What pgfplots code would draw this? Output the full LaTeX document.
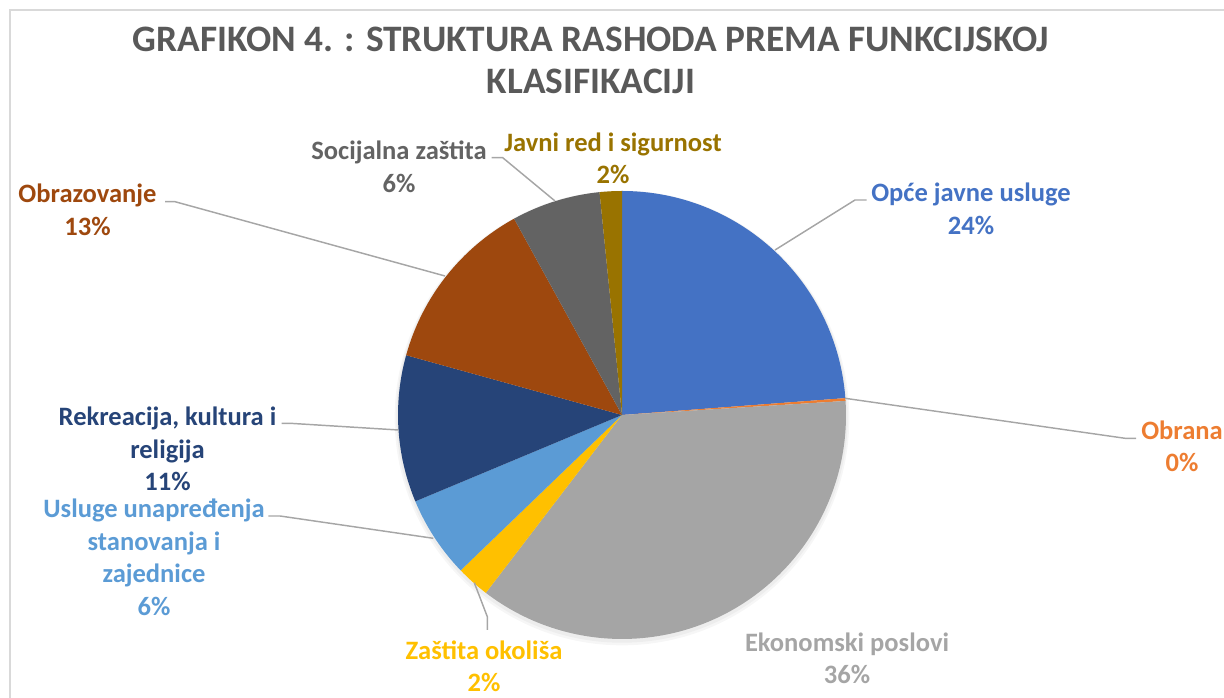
\documentclass[border=0pt]{standalone}
\usepackage{fontspec}
\setmainfont{Carlito}
\usepackage{pgfplots}
\usepackage{pgfplotstable}
\pgfplotsset{compat=1.18}

\definecolor{c0}{HTML}{4472C4}
\definecolor{c1}{HTML}{ED7D31}
\definecolor{c2}{HTML}{A5A5A5}
\definecolor{c3}{HTML}{FFC000}
\definecolor{c4}{HTML}{5B9BD5}
\definecolor{c5}{HTML}{264478}
\definecolor{c6}{HTML}{9E480E}
\definecolor{c7}{HTML}{636363}
\definecolor{c8}{HTML}{997300}
\definecolor{titlecol}{HTML}{595959}
\definecolor{leader}{HTML}{A6A6A6}
\definecolor{frame}{HTML}{D9D9D9}

\tikzset{
  lbl/.style={font=\bfseries\fontsize{19.9}{24.4}\selectfont, align=center, inner sep=0pt},
  lead/.style={leader, line width=1.1pt},
}

% shares in percent, clockwise from 12 o'clock
\pgfplotstableread[col sep=comma]{
share,col
23.8,c0
0.2,c1
36.4,c2
2.4,c3
5.9,c4
10.6,c5
12.7,c6
6.4,c7
1.6,c8
}\shares

\begin{document}
\begin{tikzpicture}
\begin{axis}[
  x=0.75pt, y=0.75pt,
  xmin=0, xmax=1224, ymin=0, ymax=698,
  hide axis, clip=false,
]
\coordinate (ll) at (axis cs:0,0);
\coordinate (ur) at (axis cs:1224,698);
\draw[frame, line width=1.5pt] (axis cs:10,688) rectangle (axis cs:1260,-30);

% soft shadow under the pie
\fill[black, opacity=0.035] (axis cs:622,280) circle[radius=170.5pt];
\fill[black, opacity=0.035] (axis cs:622,281) circle[radius=169.3pt];

\xdef\cum{90}
\pgfplotsinvokeforeach{0,...,8}{
  \pgfplotstablegetelem{#1}{share}\of\shares \let\sliceval\pgfplotsretval
  \pgfplotstablegetelem{#1}{col}\of\shares \let\slicecol\pgfplotsretval
  \pgfmathsetmacro\aend{\cum-3.6*\sliceval}
  \edef\slice{\noexpand\fill[\slicecol] (axis cs:622,283) -- ++(\cum:168pt)
    arc[start angle=\cum, end angle=\aend, radius=168pt] -- cycle;}
  \slice
  \xdef\cum{\aend}
}

% title
\node[text=titlecol, align=center, inner sep=0pt, font=\bfseries\fontsize{28}{31.5}\selectfont] at (axis cs:591,638)
  {GRAFIKON 4. : STRUKTURA RASHODA PREMA FUNKCIJSKOJ\\KLASIFIKACIJI};

% leader lines
\draw[lead] (axis cs:775,448) -- (axis cs:855,498) -- (axis cs:866.7,498);
\draw[lead] (axis cs:845,299.7) -- (axis cs:1125,259.7) -- (axis cs:1136,259.7);
\draw[lead] (axis cs:474.3,115.3) -- (axis cs:487.3,81.3) -- (axis cs:487.3,68);
\draw[lead] (axis cs:433.3,159.7) -- (axis cs:280,182) -- (axis cs:268.3,182);
\draw[lead] (axis cs:398.3,268) -- (axis cs:290,274.7) -- (axis cs:281.7,274.7);
\draw[lead] (axis cs:445,422) -- (axis cs:175,496.3) -- (axis cs:165,496.3);
\draw[lead] (axis cs:555,497) -- (axis cs:502.7,540.3) -- (axis cs:491.7,540.3);

% labels
\node[lbl, text=c0] at (axis cs:971,489) {Opće javne usluge\\24\%};
\node[lbl, text=c1] at (axis cs:1182,251.5) {Obrana\\0\%};
\node[lbl, text=c2] at (axis cs:847,39.5) {Ekonomski poslovi\\36\%};
\node[lbl, text=c3] at (axis cs:484,31.5) {Zaštita okoliša\\2\%};
\node[lbl, text=c4] at (axis cs:154,140.5) {Usluge unapređenja\\stanovanja i\\zajednice\\6\%};
\node[lbl, text=c5] at (axis cs:167.5,249) {Rekreacija, kultura i\\religija\\11\%};
\node[lbl, text=c6] at (axis cs:87.5,488) {Obrazovanje\\13\%};
\node[lbl, text=c7] at (axis cs:399,531.3) {Socijalna zaštita\\6\%};
\node[lbl, text=c8] at (axis cs:613,539.7) {Javni red i sigurnost\\2\%};
\end{axis}
\pgfresetboundingbox
\useasboundingbox (ll) rectangle (ur);
\end{tikzpicture}
\end{document}
